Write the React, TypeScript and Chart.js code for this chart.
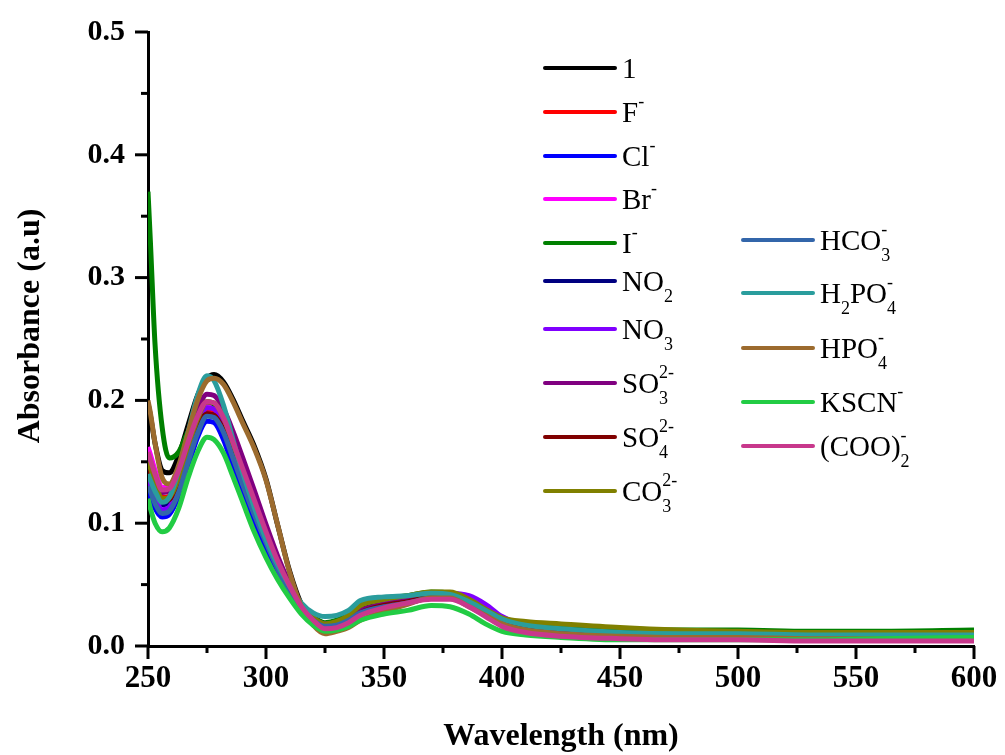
import React, { useEffect, useRef } from 'react';
import { Chart, registerables } from 'chart.js';

Chart.register(...registerables);

// Wavelength sample points (nm)
const wavelengths = [250, 251, 253, 256, 259, 263, 267, 271, 275, 278, 282, 286, 290, 295, 300, 305, 310, 315, 320, 325, 330, 335, 340, 350, 360, 370, 378, 386, 393, 400, 410, 425, 450, 475, 500, 530, 560, 600];

const absL1 = [0.198, 0.188, 0.165, 0.143, 0.141, 0.155, 0.180, 0.204, 0.218, 0.221, 0.215, 0.201, 0.184, 0.163, 0.136, 0.098, 0.061, 0.034, 0.021, 0.015, 0.017, 0.021, 0.029, 0.034, 0.038, 0.042, 0.041, 0.034, 0.026, 0.019, 0.015, 0.012, 0.009, 0.008, 0.008, 0.007, 0.006, 0.006];
const absF = [0.150, 0.145, 0.133, 0.121, 0.122, 0.137, 0.160, 0.180, 0.191, 0.190, 0.178, 0.158, 0.137, 0.112, 0.088, 0.066, 0.048, 0.032, 0.022, 0.017, 0.018, 0.022, 0.028, 0.033, 0.036, 0.040, 0.040, 0.034, 0.026, 0.019, 0.014, 0.011, 0.008, 0.007, 0.007, 0.006, 0.005, 0.005];
const absCl = [0.125, 0.121, 0.112, 0.105, 0.107, 0.122, 0.146, 0.170, 0.183, 0.182, 0.168, 0.146, 0.124, 0.100, 0.079, 0.060, 0.043, 0.030, 0.021, 0.016, 0.017, 0.021, 0.027, 0.032, 0.035, 0.039, 0.039, 0.033, 0.025, 0.018, 0.013, 0.010, 0.008, 0.007, 0.007, 0.006, 0.006, 0.006];
const absBr = [0.162, 0.156, 0.143, 0.129, 0.130, 0.145, 0.168, 0.187, 0.197, 0.196, 0.184, 0.164, 0.142, 0.116, 0.090, 0.067, 0.048, 0.032, 0.022, 0.017, 0.018, 0.022, 0.028, 0.033, 0.037, 0.040, 0.040, 0.034, 0.026, 0.019, 0.014, 0.011, 0.009, 0.008, 0.008, 0.007, 0.006, 0.006];
const absI = [0.370, 0.330, 0.245, 0.178, 0.153, 0.158, 0.175, 0.190, 0.199, 0.197, 0.185, 0.165, 0.143, 0.117, 0.091, 0.068, 0.049, 0.033, 0.024, 0.019, 0.021, 0.026, 0.035, 0.039, 0.041, 0.044, 0.043, 0.036, 0.028, 0.022, 0.018, 0.016, 0.014, 0.013, 0.013, 0.012, 0.012, 0.013];
const absNO2 = [0.140, 0.135, 0.125, 0.115, 0.117, 0.132, 0.155, 0.176, 0.189, 0.188, 0.176, 0.155, 0.134, 0.109, 0.086, 0.064, 0.046, 0.031, 0.021, 0.016, 0.017, 0.021, 0.027, 0.032, 0.036, 0.040, 0.040, 0.034, 0.026, 0.019, 0.014, 0.011, 0.008, 0.007, 0.007, 0.006, 0.005, 0.005];
const absNO3 = [0.135, 0.130, 0.121, 0.111, 0.113, 0.129, 0.154, 0.178, 0.194, 0.193, 0.180, 0.158, 0.136, 0.110, 0.086, 0.063, 0.045, 0.031, 0.022, 0.018, 0.019, 0.022, 0.028, 0.034, 0.038, 0.041, 0.043, 0.041, 0.034, 0.024, 0.016, 0.012, 0.010, 0.009, 0.009, 0.009, 0.007, 0.007];
const absSO3 = [0.155, 0.150, 0.138, 0.125, 0.127, 0.143, 0.168, 0.192, 0.205, 0.204, 0.193, 0.175, 0.154, 0.127, 0.099, 0.073, 0.051, 0.034, 0.023, 0.018, 0.019, 0.023, 0.029, 0.034, 0.037, 0.041, 0.041, 0.035, 0.027, 0.020, 0.015, 0.012, 0.009, 0.008, 0.008, 0.007, 0.006, 0.006];
const absSO4 = [0.145, 0.140, 0.129, 0.118, 0.119, 0.134, 0.157, 0.178, 0.189, 0.188, 0.176, 0.156, 0.135, 0.110, 0.087, 0.065, 0.047, 0.031, 0.021, 0.015, 0.016, 0.020, 0.027, 0.033, 0.036, 0.040, 0.040, 0.034, 0.026, 0.019, 0.014, 0.011, 0.008, 0.007, 0.007, 0.006, 0.006, 0.006];
const absCO3 = [0.150, 0.145, 0.133, 0.120, 0.121, 0.137, 0.162, 0.185, 0.199, 0.198, 0.186, 0.165, 0.143, 0.117, 0.091, 0.068, 0.049, 0.033, 0.023, 0.018, 0.020, 0.025, 0.033, 0.038, 0.041, 0.044, 0.044, 0.038, 0.030, 0.023, 0.020, 0.018, 0.015, 0.013, 0.012, 0.011, 0.011, 0.011];
const absHCO3 = [0.130, 0.126, 0.116, 0.108, 0.110, 0.125, 0.150, 0.173, 0.187, 0.186, 0.174, 0.153, 0.132, 0.107, 0.084, 0.063, 0.045, 0.031, 0.021, 0.016, 0.017, 0.021, 0.027, 0.032, 0.035, 0.039, 0.039, 0.033, 0.025, 0.018, 0.013, 0.010, 0.008, 0.007, 0.007, 0.006, 0.006, 0.006];
const absH2PO4 = [0.140, 0.135, 0.126, 0.117, 0.121, 0.143, 0.174, 0.204, 0.220, 0.216, 0.196, 0.168, 0.142, 0.113, 0.087, 0.066, 0.049, 0.035, 0.027, 0.024, 0.025, 0.029, 0.037, 0.040, 0.041, 0.043, 0.042, 0.036, 0.029, 0.022, 0.017, 0.014, 0.011, 0.010, 0.010, 0.009, 0.009, 0.009];
const absHPO4 = [0.200, 0.190, 0.165, 0.137, 0.132, 0.147, 0.174, 0.200, 0.216, 0.218, 0.213, 0.199, 0.182, 0.161, 0.135, 0.098, 0.060, 0.032, 0.017, 0.010, 0.012, 0.015, 0.021, 0.028, 0.034, 0.039, 0.039, 0.032, 0.025, 0.018, 0.013, 0.010, 0.008, 0.007, 0.007, 0.006, 0.006, 0.006];
const absKSCN = [0.120, 0.112, 0.100, 0.093, 0.096, 0.112, 0.137, 0.158, 0.170, 0.168, 0.157, 0.138, 0.118, 0.093, 0.072, 0.054, 0.039, 0.026, 0.017, 0.012, 0.013, 0.016, 0.021, 0.026, 0.029, 0.033, 0.032, 0.026, 0.018, 0.012, 0.009, 0.007, 0.005, 0.005, 0.005, 0.005, 0.006, 0.007];
const absCOO2 = [0.158, 0.152, 0.140, 0.127, 0.128, 0.143, 0.166, 0.187, 0.199, 0.198, 0.186, 0.166, 0.145, 0.119, 0.093, 0.069, 0.049, 0.032, 0.021, 0.014, 0.015, 0.019, 0.025, 0.031, 0.035, 0.038, 0.038, 0.032, 0.024, 0.016, 0.011, 0.008, 0.006, 0.005, 0.005, 0.004, 0.004, 0.004];

const seriesValues = [absL1, absF, absCl, absBr, absI, absNO2, absNO3, absSO3, absSO4, absCO3, absHCO3, absH2PO4, absHPO4, absKSCN, absCOO2];
const seriesNames = ['1', 'F-', 'Cl-', 'Br-', 'I-', 'NO2', 'NO3', 'SO3 2-', 'SO4 2-', 'CO3 2-', 'HCO3-', 'H2PO4-', 'HPO4-', 'KSCN-', '(COO)2-'];
const seriesColors = ['#000000', '#ff0000', '#0000ff', '#ff00ff', '#008000', '#000080', '#8000ff', '#800080', '#800000', '#808000', '#3366aa', '#2a9d9d', '#9c6b2e', '#22cc44', '#c8388c'];

type Seg = { t?: string; sub?: string; sup?: string };
const legendRich: Seg[][] = [
  [{ t: '1' }],
  [{ t: 'F' }, { sup: '-' }],
  [{ t: 'Cl' }, { sup: '-' }],
  [{ t: 'Br' }, { sup: '-' }],
  [{ t: 'I' }, { sup: '-' }],
  [{ t: 'NO' }, { sub: '2' }],
  [{ t: 'NO' }, { sub: '3' }],
  [{ t: 'SO' }, { sub: '3', sup: '2-' }],
  [{ t: 'SO' }, { sub: '4', sup: '2-' }],
  [{ t: 'CO' }, { sub: '3', sup: '2-' }],
  [{ t: 'HCO' }, { sub: '3', sup: '-' }],
  [{ t: 'H' }, { sub: '2' }, { t: 'PO' }, { sub: '4', sup: '-' }],
  [{ t: 'HPO' }, { sub: '4', sup: '-' }],
  [{ t: 'KSCN' }, { sup: '-' }],
  [{ t: '(COO)' }, { sub: '2', sup: '-' }],
];

const xTitle = 'Wavelength (nm)';
const yTitle = 'Absorbance (a.u)';

const xMin = 250, xMax = 600, xMajor = 50, xMinor = 25;
const yMin = 0, yMax = 0.5, yMajor = 0.1, yMinor = 0.05;

const SERIF = "'Liberation Serif', 'Times New Roman', serif";

// target plot-area frame
const AREA = { left: 148, top: 32, right: 974, bottom: 646 };

const axisTickPlugin = {
  id: 'axisTickMarks',
  afterDraw(chart: any) {
    const ctx = chart.ctx;
    const xs = chart.scales.x;
    const ys = chart.scales.y;
    const { left, bottom } = chart.chartArea;
    ctx.save();
    ctx.strokeStyle = '#000';
    ctx.lineWidth = 3;
    ctx.lineCap = 'butt';
    const nx = Math.round((xMax - xMin) / xMinor);
    for (let i = 0; i <= nx; i++) {
      const v = xMin + i * xMinor;
      const px = xs.getPixelForValue(v);
      const len = i % 2 === 0 ? 13 : 7;
      ctx.beginPath();
      ctx.moveTo(px, bottom);
      ctx.lineTo(px, bottom + len);
      ctx.stroke();
    }
    const ny = Math.round((yMax - yMin) / yMinor);
    for (let i = 0; i <= ny; i++) {
      const v = yMin + i * yMinor;
      const py = ys.getPixelForValue(v);
      const len = i % 2 === 0 ? 13 : 7;
      ctx.beginPath();
      ctx.moveTo(left, py);
      ctx.lineTo(left - len, py);
      ctx.stroke();
    }
    // y-axis title (positioned as in the reference, slightly above centre)
    ctx.fillStyle = '#000';
    ctx.font = `bold 32px ${SERIF}`;
    ctx.textAlign = 'center';
    ctx.textBaseline = 'middle';
    ctx.translate(31, 326);
    ctx.rotate(-Math.PI / 2);
    ctx.fillText(yTitle, 0, 0);
    ctx.restore();
  },
};

const legendCol1Rows = [68, 112, 156, 199, 243, 281, 329, 383, 437, 491];
const legendCol2Rows = [240, 293, 348, 402, 446];

const richLegendPlugin = {
  id: 'richLegend',
  afterDraw(chart: any) {
    const ctx = chart.ctx;
    ctx.save();
    const mainFont = `29px ${SERIF}`;
    const smallFont = `18px ${SERIF}`;
    chart.data.datasets.forEach((ds: any, i: number) => {
      let x1: number, x2: number, tx: number, y: number;
      if (i < 10) {
        x1 = 545; x2 = 615; tx = 622; y = legendCol1Rows[i];
      } else {
        x1 = 743; x2 = 813; tx = 820; y = legendCol2Rows[i - 10];
      }
      ctx.strokeStyle = ds.borderColor;
      ctx.lineWidth = 4;
      ctx.lineCap = 'round';
      ctx.beginPath();
      ctx.moveTo(x1, y);
      ctx.lineTo(x2, y);
      ctx.stroke();
      const base = y + 10;
      let cx = tx;
      ctx.fillStyle = '#000';
      ctx.textBaseline = 'alphabetic';
      ctx.textAlign = 'left';
      for (const seg of legendRich[i]) {
        if (seg.t) {
          ctx.font = mainFont;
          ctx.fillText(seg.t, cx, base);
          cx += ctx.measureText(seg.t).width;
        } else {
          ctx.font = smallFont;
          let w = 0;
          if (seg.sub) {
            ctx.fillText(seg.sub, cx, base + 11);
            w = Math.max(w, ctx.measureText(seg.sub).width);
          }
          if (seg.sup) {
            ctx.fillText(seg.sup, cx, base - 15);
            w = Math.max(w, ctx.measureText(seg.sup).width);
          }
          cx += w;
        }
      }
    });
    ctx.restore();
  },
};

export default function App() {
  const canvasRef = useRef<HTMLCanvasElement | null>(null);

  useEffect(() => {
    if (!canvasRef.current) return;
    const datasets = seriesValues.map((vals, i) => ({
      label: seriesNames[i],
      data: wavelengths.map((w, j) => ({ x: w, y: vals[j] })),
      borderColor: seriesColors[i],
      backgroundColor: seriesColors[i],
      borderWidth: 5,
      pointRadius: 0,
      fill: false,
      cubicInterpolationMode: 'monotone' as const,
      order: seriesValues.length - i,
    }));

    const chart = new Chart(canvasRef.current, {
      type: 'line',
      data: { datasets },
      options: {
        animation: false,
        responsive: false,
        devicePixelRatio: 1,
        layout: { padding: { top: AREA.top, right: 1005 - AREA.right, left: 0, bottom: 0 } },
        plugins: {
          legend: { display: false },
          tooltip: { enabled: false },
        },
        scales: {
          x: {
            type: 'linear',
            min: xMin,
            max: xMax,
            afterFit: (s: any) => {
              s.height = 755 - AREA.bottom;
              s.paddingLeft = 0;
              s.paddingRight = 0;
            },
            grid: { display: false, drawTicks: false },
            border: { display: true, color: '#000', width: 3 },
            ticks: {
              stepSize: xMajor,
              color: '#000',
              padding: 14,
              maxRotation: 0,
              font: { family: SERIF, size: 31, weight: 'bold' },
            },
            title: {
              display: true,
              text: xTitle,
              color: '#000',
              font: { family: SERIF, size: 32, weight: 'bold' },
              padding: { top: 0, bottom: -1 },
            },
          },
          y: {
            type: 'linear',
            min: yMin,
            max: yMax,
            afterFit: (s: any) => {
              s.width = AREA.left;
              s.paddingTop = 0;
              s.paddingBottom = 0;
            },
            grid: { display: false, drawTicks: false },
            border: { display: true, color: '#000', width: 3 },
            ticks: {
              stepSize: yMajor,
              color: '#000',
              padding: 23,
              callback: (v: any) => Number(v).toFixed(1),
              font: { family: SERIF, size: 30, weight: 'bold' },
            },
            title: { display: false },
          },
        },
      },
      plugins: [axisTickPlugin, richLegendPlugin],
    });
    return () => chart.destroy();
  }, []);

  return (
    <div style={{ position: 'absolute', left: 0, top: 0, width: 1005, height: 755, background: '#fff' }}>
      <canvas ref={canvasRef} width={1005} height={755} />
    </div>
  );
}
